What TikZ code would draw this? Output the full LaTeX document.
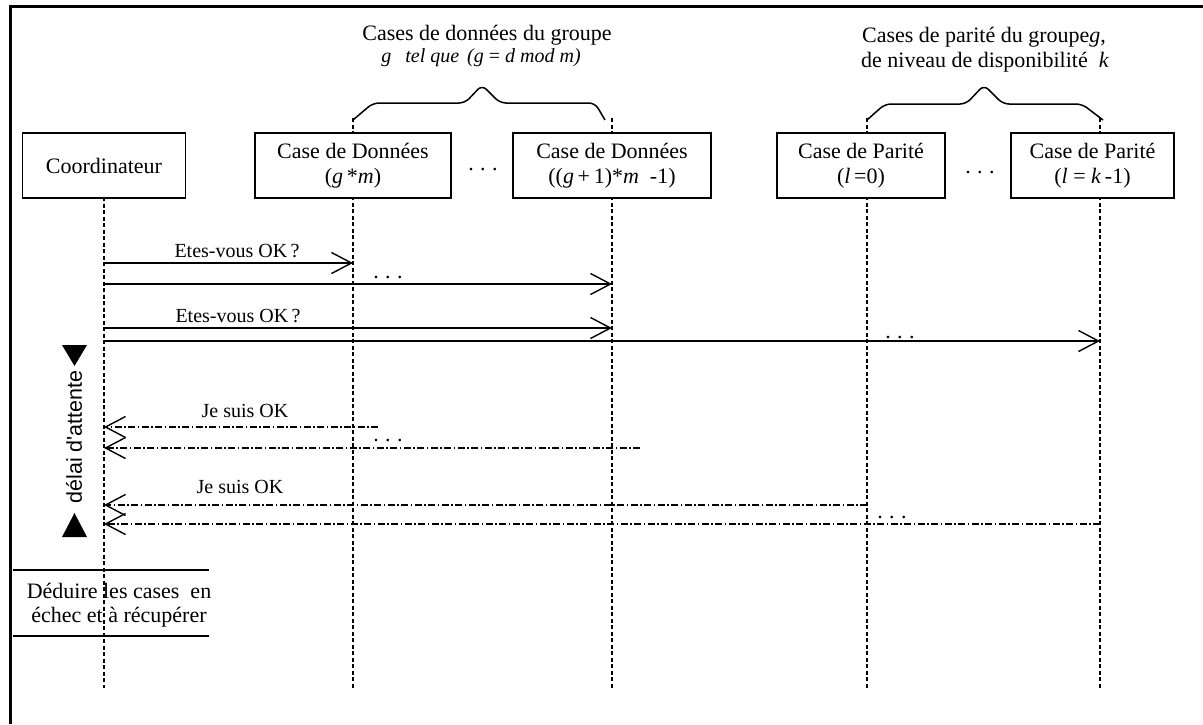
\documentclass[tikz,border=0pt]{standalone}
\usepackage{fontspec}
\setmainfont{Liberation Serif}
\newfontfamily\labelsans{Liberation Sans}
\usetikzlibrary{arrows.meta}

\begin{document}
\begin{tikzpicture}[x=1pt,y=-1pt,
  box/.style={draw,line width=1.6pt,fill=white,minimum height=65pt,inner sep=0pt,
    align=center,font=\fontsize{22}{25}\selectfont},
  lifeline/.style={line width=1.3pt,dash pattern=on 4pt off 2.5pt},
  barb/.style={-{Straight Barb[length=20pt,width=21pt,line width=1.4pt]}},
  ask/.style={barb,line width=1.4pt},
  reply/.style={barb,line width=1.4pt,dash pattern=on 7pt off 2.5pt on 1.5pt off 2.5pt},
  msg/.style={anchor=base,inner sep=0pt,font=\fontsize{20}{22}\selectfont},
  hdr/.style={anchor=base,inner sep=0pt,font=\fontsize{22}{25}\selectfont},
  dotrow/.style={anchor=base,inner sep=0pt,font=\fontsize{22}{25}\selectfont},
  brace/.style={line width=1.5pt,rounded corners=6pt},
]
\useasboundingbox (0,0) rectangle (1203,724);

% frame
\draw[line width=3pt] (10,724) -- (10,6) -- (1203,6);

% lifeline ends
\coordinate (c-top)  at (104,197);  \coordinate (c-bot)  at (104,688);
\coordinate (d1-top) at (353,118);  \coordinate (d1-bot) at (353,688);
\coordinate (d2-top) at (612,118);  \coordinate (d2-bot) at (612,688);
\coordinate (p1-top) at (867,118);  \coordinate (p1-bot) at (867,688);
\coordinate (p2-top) at (1100,118); \coordinate (p2-bot) at (1100,688);

\foreach \l in {c,d1,d2,p1,p2} \draw[lifeline] (\l-top) -- (\l-bot);

% participants
\node[box,minimum width=163pt] (coord) at (104,165.5) {Coordinateur};
\node[box,minimum width=196pt] (data1) at (353,165.5) {Case de Données\\(\textit{g}\,*\textit{m})};
\node[box,minimum width=198pt] (data2) at (612,165.5) {Case de Données\\((\textit{g}\,+\,1)*\textit{m}\ \ -1)};
\node[box,minimum width=168pt] (par1) at (861,165.5) {Case de Parité\\(\textit{l}\,=0)};
\node[box,minimum width=163pt] (par2) at (1092.5,165.5) {Case de Parité\\(\textit{l} = \textit{k}\,-1)};

\node[dotrow] (dd) at (483,170) {.\hspace{6.5pt}.\hspace{6.5pt}.};
\node[dotrow] (pd) at (980,173) {.\hspace{6.5pt}.\hspace{6.5pt}.};

% group headers and braces
\node[hdr] (h1) at (487,40) {Cases de données du groupe};
\node[hdr,font=\fontsize{20}{22}\selectfont] (h1b) at (481,62)
  {\itshape g\hspace{14pt}tel que\hspace{8pt}(g {\upshape=} d mod m)};
\draw[brace] (353,120) -- (373,103) -- (465,103) -- (482,85) -- (500,103)
  -- (595,103) -- (605,120);

\node[hdr] (h2) at (984,42) {Cases de parité du groupe\textit{g},};
\node[hdr] (h2b) at (985,67) {de niveau de disponibilité\ \ \textit{k}};
\draw[brace] (867,120) -- (885,104) -- (966,104) -- (984,85) -- (1003,104)
  -- (1082,104) -- (1103,120);

% requests
\coordinate (a1) at (104,263); \coordinate (b1) at (353,263);
\coordinate (a2) at (104,284); \coordinate (b2) at (612,284);
\coordinate (a3) at (104,328); \coordinate (b3) at (612,328);
\coordinate (a4) at (104,341); \coordinate (b4) at (1100,341);
\draw[ask] (a1) -- (b1);
\draw[ask] (a2) -- (b2);
\draw[ask] (a3) -- (b3);
\draw[ask] (a4) -- (b4);
\node[msg] (q1) at (237,257) {Etes-vous OK\,?};
\node[msg] (q2) at (238,322) {Etes-vous OK\,?};
\node[dotrow] (qd1) at (388,278) {.\hspace{6.5pt}.\hspace{6.5pt}.};
\node[dotrow] (qd2) at (900,338) {.\hspace{6.5pt}.\hspace{6.5pt}.};

% replies
\coordinate (s1) at (378,427);  \coordinate (e1) at (104,427);
\coordinate (s2) at (640,448);  \coordinate (e2) at (104,448);
\coordinate (s3) at (867,505);  \coordinate (e3) at (104,505);
\coordinate (s4) at (1100,524); \coordinate (e4) at (104,524);
\draw[reply] (s1) -- (e1);
\draw[reply] (s2) -- (e2);
\draw[reply] (s3) -- (e3);
\draw[reply] (s4) -- (e4);
\node[msg] (j1) at (245,417) {Je suis OK};
\node[msg] (j2) at (240,493) {Je suis OK};
\node[dotrow] (rd1) at (388,441) {.\hspace{6.5pt}.\hspace{6.5pt}.};
\node[dotrow] (rd2) at (892,518) {.\hspace{6.5pt}.\hspace{6.5pt}.};

% waiting delay
\fill (62,345) -- (87,345) -- (74.5,366) -- cycle;
\fill (62,537) -- (87,537) -- (74.5,513) -- cycle;
\node[rotate=90,inner sep=0pt,font=\labelsans\fontsize{21.5}{24}\selectfont] (delay) at (74,437) {délai d'attente};

% final step
\draw[line width=1.5pt] (13,570) -- (209,570);
\draw[line width=1.5pt] (13,636) -- (209,636);
\node[align=center,inner sep=0pt,font=\fontsize{22}{24}\selectfont] (deduce) at (119,605)
  {Déduire les cases\ \ en\\échec et à récupérer};
\end{tikzpicture}
\end{document}
